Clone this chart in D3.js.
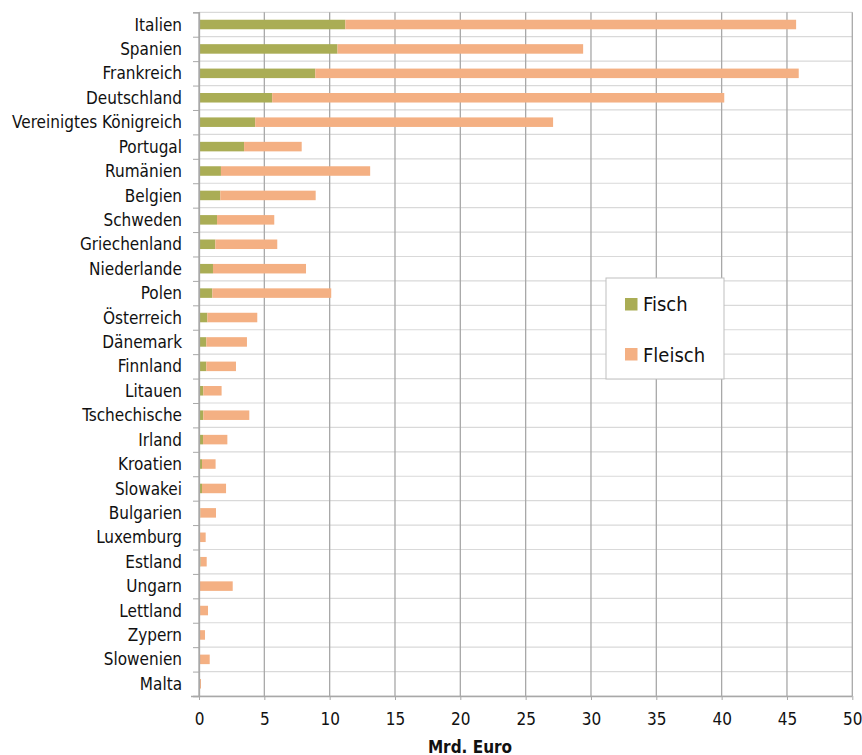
<!DOCTYPE html>
<html>
<head>
<meta charset="utf-8">
<script src="https://cdn.jsdelivr.net/npm/d3@7"></script>
<style>
  html, body { margin: 0; padding: 0; background: #fff; }
  svg { display: block; }
  text { font-family: "DejaVu Sans Condensed", "DejaVu Sans", sans-serif; fill: #111; }
</style>
</head>
<body>
<svg id="chart" width="862" height="755"></svg>
<script>
// Länder (von oben nach unten)
const countries = [
  "Italien", "Spanien", "Frankreich", "Deutschland", "Vereinigtes Königreich",
  "Portugal", "Rumänien", "Belgien", "Schweden", "Griechenland", "Niederlande",
  "Polen", "Österreich", "Dänemark", "Finnland", "Litauen", "Tschechische",
  "Irland", "Kroatien", "Slowakei", "Bulgarien", "Luxemburg", "Estland",
  "Ungarn", "Lettland", "Zypern", "Slowenien", "Malta"
];

// Fisch, Mrd. Euro
const fisch = [
  11.2, 10.6, 8.9, 5.6, 4.3,
  3.45, 1.68, 1.63, 1.38, 1.25, 1.07,
  1.02, 0.64, 0.56, 0.56, 0.33, 0.33,
  0.31, 0.23, 0.23, 0.10, 0.08, 0.12,
  0.05, 0.08, 0.03, 0.04, 0.02
];

// Fleisch, Mrd. Euro
const fleisch = [
  34.5, 18.8, 37.0, 34.6, 22.8,
  4.41, 11.42, 7.30, 4.38, 4.74, 7.12,
  9.10, 3.82, 3.11, 2.27, 1.40, 3.52,
  1.86, 1.04, 1.84, 1.20, 0.43, 0.47,
  2.53, 0.61, 0.43, 0.78, 0.13
];

const seriesNames = ["Fisch", "Fleisch"];
const xTicks = [0, 5, 10, 15, 20, 25, 30, 35, 40, 45, 50];
const xTitle = "Mrd. Euro";

const colors = { Fisch: "#aaad55", Fleisch: "#f4b083" };

const svg = d3.select("#chart");
const W = 862, H = 755;
const margin = { top: 12.3, right: 9.7, bottom: 59, left: 199 };
const x0 = margin.left, x1 = W - margin.right;
const y0 = margin.top, y1 = H - margin.bottom;
const fontStack = "'DejaVu Sans Condensed', 'DejaVu Sans', sans-serif";

const x = d3.scaleLinear().domain([0, 50]).range([x0, x1]);
// bars centred in equal category slots
const y = d3.scaleBand().domain(countries).range([y0, y1]).paddingInner(0.61).paddingOuter(0.305);
// category boundaries (tick marks between categories)
const yb = d3.scaleLinear().domain([0, countries.length]).range([y0, y1]);

const rows = countries.map((c, i) => ({ country: c, Fisch: fisch[i], Fleisch: fleisch[i] }));
const stacked = d3.stack().keys(seriesNames)(rows);

// horizontal gridlines at category boundaries
svg.append("g")
  .selectAll("line")
  .data(d3.range(countries.length + 1))
  .join("line")
  .attr("x1", x0).attr("x2", x1)
  .attr("y1", d => yb(d)).attr("y2", d => yb(d))
  .attr("stroke", "#d9d9d9").attr("stroke-width", 1.2);

// vertical gridlines
svg.append("g")
  .selectAll("line")
  .data(xTicks)
  .join("line")
  .attr("x1", d => x(d)).attr("x2", d => x(d))
  .attr("y1", y0).attr("y2", y1)
  .attr("stroke", "#a8a8a8").attr("stroke-width", 1.3);

// bars
svg.append("g")
  .selectAll("g")
  .data(stacked)
  .join("g")
  .attr("fill", d => colors[d.key])
  .selectAll("rect")
  .data(d => d)
  .join("rect")
  .attr("x", d => x(d[0]))
  .attr("y", d => y(d.data.country))
  .attr("width", d => Math.max(0, x(d[1]) - x(d[0])))
  .attr("height", y.bandwidth());

// category axis: tick marks between categories
const yTickAxis = svg.append("g")
  .attr("transform", `translate(${x0},0)`)
  .call(d3.axisLeft(yb).tickValues(d3.range(countries.length + 1)).tickSize(6).tickFormat(""));
yTickAxis.select(".domain").attr("stroke", "#a8a8a8").attr("stroke-width", 1.3);
yTickAxis.selectAll(".tick line").attr("stroke", "#a8a8a8");

// category labels
const yLabelAxis = svg.append("g")
  .attr("transform", `translate(${x0},0)`)
  .call(d3.axisLeft(y).tickSize(0).tickPadding(17));
yLabelAxis.select(".domain").remove();
yLabelAxis.selectAll("text")
  .attr("font-size", 17)
  .attr("dy", "0.36em")
  .style("font-family", fontStack)
  .attr("fill", "#111");

// value axis
const xAxis = svg.append("g")
  .attr("transform", `translate(0,${y1})`)
  .call(d3.axisBottom(x).tickValues(xTicks).tickSize(4).tickPadding(13).tickFormat(d3.format("d")));
xAxis.select(".domain").attr("d", `M${x0 - 8},0.5H${x1}`).attr("stroke", "#a8a8a8").attr("stroke-width", 1.3);
xAxis.selectAll(".tick line").attr("stroke", "#a8a8a8");
xAxis.selectAll("text")
  .attr("font-size", 17)
  .style("font-family", fontStack)
  .attr("fill", "#111");

// axis title
svg.append("text")
  .attr("x", 470).attr("y", 752.5)
  .attr("text-anchor", "middle")
  .attr("font-size", 17).attr("font-weight", "bold")
  .text(xTitle);

// legend
const legend = svg.append("g");
legend.append("rect")
  .attr("x", 606).attr("y", 278).attr("width", 118).attr("height", 101)
  .attr("fill", "#fff").attr("stroke", "#bfbfbf").attr("stroke-width", 1);
const legendRows = [{ name: seriesNames[0], sy: 298, ty: 310.5 }, { name: seriesNames[1], sy: 348, ty: 361.5 }];
legendRows.forEach(r => {
  legend.append("rect")
    .attr("x", 625).attr("y", r.sy).attr("width", 12.5).attr("height", 12.5)
    .attr("fill", colors[r.name]);
  legend.append("text")
    .attr("x", 643).attr("y", r.ty)
    .attr("font-size", 20)
    .text(r.name);
});
</script>
</body>
</html>
